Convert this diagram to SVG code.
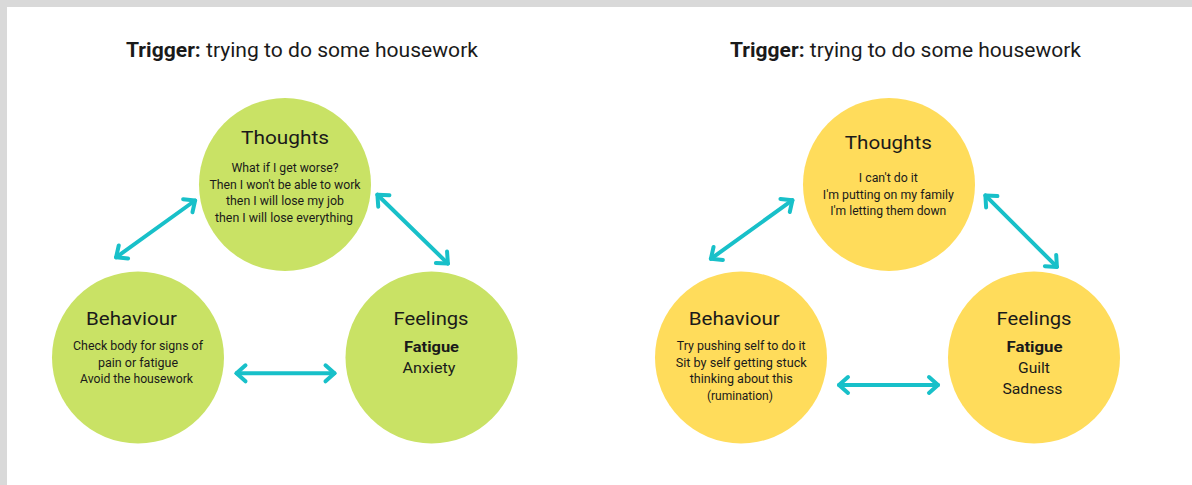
<svg xmlns="http://www.w3.org/2000/svg" width="1192" height="485" viewBox="0 0 1192 485">
  <style>
    text { font-family: Roboto, "Liberation Sans", Arial, sans-serif; fill: #1a1a1a; text-anchor: middle; }
    .title { font-size: 20px; text-anchor: start; }
    .head { font-size: 19px; }
    .body { font-size: 12px; }
    .feel { font-size: 15px; }
    .bold { font-weight: bold; }
    .green { fill: #C9E265; }
    .yellow { fill: #FFDC5B; }
    .link { stroke: #18C0C9; stroke-width: 4; stroke-linecap: round; fill: none;
            marker-start: url(#chev); marker-end: url(#chev); }
  </style>
  <defs>
    <marker id="chev" viewBox="-14 -12 18 24" markerWidth="18" markerHeight="24" refX="0" refY="0"
            markerUnits="userSpaceOnUse" orient="auto-start-reverse" overflow="visible">
      <path d="M -9 -8 L 0 0 L -9 8" fill="none" stroke="#18C0C9" stroke-width="4"
            stroke-linecap="round" stroke-linejoin="round"/>
    </marker>
  </defs>

  <!-- page frame -->
  <rect x="0" y="0" width="1192" height="485" fill="#D9D9D9"/>
  <rect x="7" y="7" width="1185" height="478" fill="#FFFFFF"/>

  <!-- headings -->
  <text class="title" x="126" y="57" textLength="352" lengthAdjust="spacingAndGlyphs"><tspan class="bold">Trigger:</tspan> trying to do some housework</text>
  <text class="title" x="730" y="57" textLength="351" lengthAdjust="spacingAndGlyphs"><tspan class="bold">Trigger:</tspan> trying to do some housework</text>

  <!-- connectors -->
  <g id="connectors">
    <line class="link" x1="195.1" y1="200.5" x2="116.1" y2="257.3"/>
    <line class="link" x1="377.4" y1="194.7" x2="447.9" y2="263.6"/>
    <line class="link" x1="236.5" y1="373.3" x2="334.5" y2="373.3"/>
    <line class="link" x1="792.4" y1="200.2" x2="710.9" y2="258.8"/>
    <line class="link" x1="985.4" y1="195.4" x2="1056.9" y2="266.9"/>
    <line class="link" x1="839" y1="385" x2="938" y2="385"/>
  </g>

  <!-- left cycle -->
  <g id="thoughts-left">
    <ellipse class="green" cx="285" cy="184.5" rx="86" ry="86.5"/>
    <text class="head" x="285" y="144" textLength="88" lengthAdjust="spacingAndGlyphs">Thoughts</text>
    <text class="body" x="285" y="172" textLength="107" lengthAdjust="spacingAndGlyphs">What if I get worse?</text>
    <text class="body" x="285" y="188.6" textLength="151" lengthAdjust="spacingAndGlyphs">Then I won't be able to work</text>
    <text class="body" x="285" y="205.3" textLength="118" lengthAdjust="spacingAndGlyphs">then I will lose my job</text>
    <text class="body" x="284" y="222" textLength="138" lengthAdjust="spacingAndGlyphs">then I will lose everything</text>
  </g>
  <g id="behaviour-left">
    <ellipse class="green" cx="138" cy="357.5" rx="86" ry="86"/>
    <text class="head" x="131.5" y="325" textLength="91" lengthAdjust="spacingAndGlyphs">Behaviour</text>
    <text class="body" x="138" y="350.3" textLength="130" lengthAdjust="spacingAndGlyphs">Check body for signs of</text>
    <text class="body" x="138" y="366.6" textLength="80" lengthAdjust="spacingAndGlyphs">pain or fatigue</text>
    <text class="body" x="136.5" y="383.3" textLength="113" lengthAdjust="spacingAndGlyphs">Avoid the housework</text>
  </g>
  <g id="feelings-left">
    <ellipse class="green" cx="431.5" cy="357.5" rx="86" ry="86"/>
    <text class="head" x="431" y="325" textLength="75" lengthAdjust="spacingAndGlyphs">Feelings</text>
    <text class="feel bold" x="431.5" y="351.7" textLength="55" lengthAdjust="spacingAndGlyphs">Fatigue</text>
    <text class="feel" x="429" y="372.7" textLength="53" lengthAdjust="spacingAndGlyphs">Anxiety</text>
  </g>

  <!-- right cycle -->
  <g id="thoughts-right">
    <ellipse class="yellow" cx="889" cy="184.5" rx="86" ry="86.5"/>
    <text class="head" x="888.3" y="148.5" textLength="87" lengthAdjust="spacingAndGlyphs">Thoughts</text>
    <text class="body" x="888.3" y="182" textLength="59" lengthAdjust="spacingAndGlyphs">I can't do it</text>
    <text class="body" x="888.3" y="198.6" textLength="131" lengthAdjust="spacingAndGlyphs">I'm putting on my family</text>
    <text class="body" x="888.3" y="215.3" textLength="116" lengthAdjust="spacingAndGlyphs">I'm letting them down</text>
  </g>
  <g id="behaviour-right">
    <ellipse class="yellow" cx="741" cy="357.5" rx="86" ry="86"/>
    <text class="head" x="734.3" y="325" textLength="91" lengthAdjust="spacingAndGlyphs">Behaviour</text>
    <text class="body" x="741.2" y="350.3" textLength="129" lengthAdjust="spacingAndGlyphs">Try pushing self to do it</text>
    <text class="body" x="741.2" y="366.6" textLength="131" lengthAdjust="spacingAndGlyphs">Sit by self getting stuck</text>
    <text class="body" x="741.2" y="383.3" textLength="103" lengthAdjust="spacingAndGlyphs">thinking about this</text>
    <text class="body" x="739.9" y="400" textLength="66" lengthAdjust="spacingAndGlyphs">(rumination)</text>
  </g>
  <g id="feelings-right">
    <ellipse class="yellow" cx="1034" cy="357.5" rx="86" ry="86"/>
    <text class="head" x="1034" y="325" textLength="75" lengthAdjust="spacingAndGlyphs">Feelings</text>
    <text class="feel bold" x="1034.5" y="351.7" textLength="56" lengthAdjust="spacingAndGlyphs">Fatigue</text>
    <text class="feel" x="1034" y="373.3" textLength="32" lengthAdjust="spacingAndGlyphs">Guilt</text>
    <text class="feel" x="1032.4" y="394.3" textLength="60" lengthAdjust="spacingAndGlyphs">Sadness</text>
  </g>
</svg>
